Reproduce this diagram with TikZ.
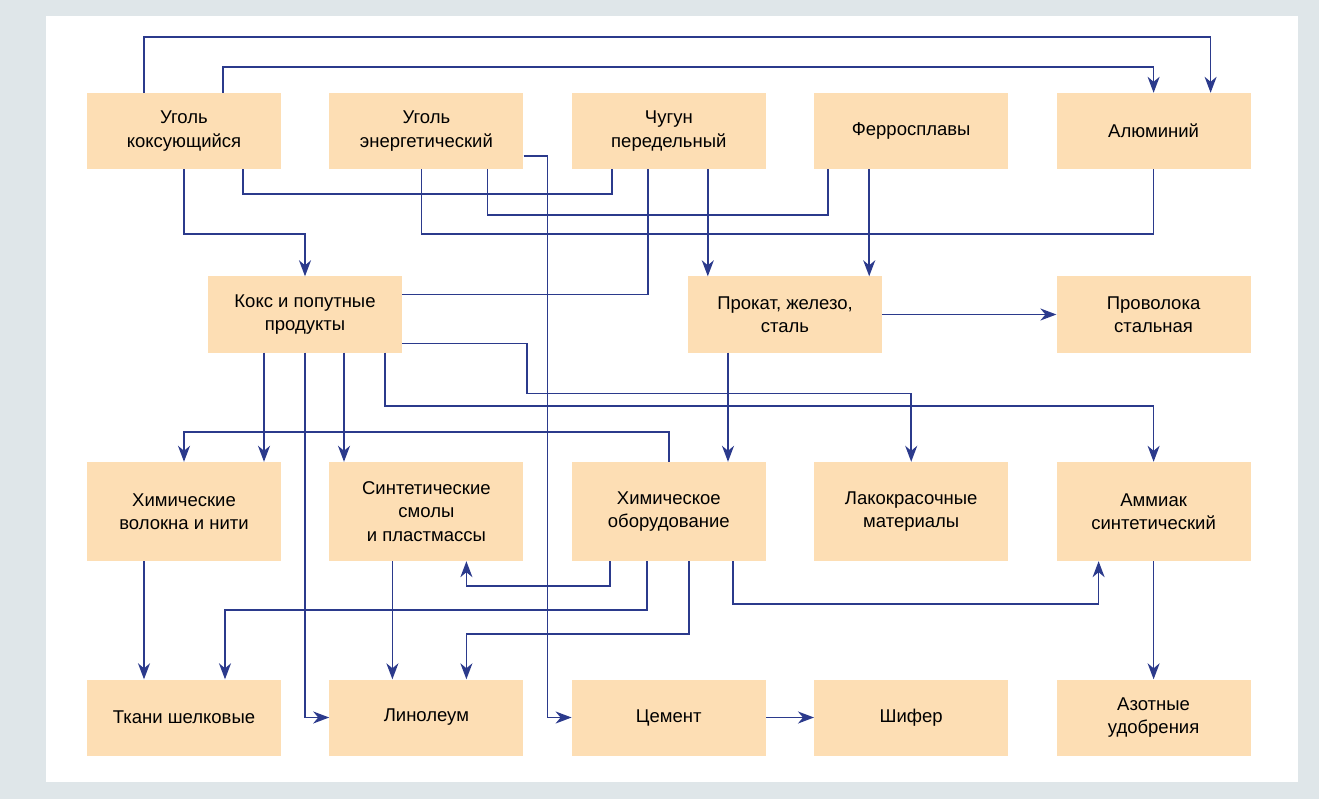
\documentclass[tikz,border=0pt]{standalone}
\usepackage{fontspec}
\setmainfont{Liberation Sans}
\usetikzlibrary{arrows.meta,positioning,calc}
\definecolor{Peach}{HTML}{FDDEB4}
\definecolor{Navy}{HTML}{2B3A8C}
\definecolor{Frame}{HTML}{DFE6E9}
\tikzset{
  unit/.style={fill=Peach,minimum width=194pt,minimum height=76pt,align=center,
    inner sep=0pt,font=\fontsize{18.5}{23.5}\selectfont},
  tallunit/.style={unit,minimum height=99pt},
  link/.style={draw=Navy,line width=1.6pt},
  arrow/.style={link,-{Stealth[length=16pt,width=12pt,inset=5pt]}}
}

\begin{document}
\begin{tikzpicture}[x=1pt,y=-1pt,node distance=48pt]
        \fill[Frame] (0,0) rectangle (1319,799);
        \fill[white] (46,16) rectangle (1298,782);
        \useasboundingbox (0,0) rectangle (1319,799);
        \node[unit] (coal) at (184,131) {Уголь\\коксующийся};
        \node[unit,right=of coal] (ecoal) {Уголь\\энергетический};
        \node[unit,right=of ecoal] (iron) {Чугун\\передельный};
        \node[unit,right=of iron] (ferro) {Ферросплавы};
        \node[unit,right=of ferro] (alu) {Алюминий};
        \node[unit] (coke) at (305,314.5) {Кокс и попутные\\продукты};
        \node[unit] (steel) at (785,314.5) {Прокат, железо,\\сталь};
        \node[unit] (wire) at (alu |- steel) {Проволока\\стальная};
        \node[tallunit] (fibre) at (184,511.5) {Химические\\волокна и нити};
        \node[tallunit,right=of fibre] (resin) {Синтетические\\смолы\\и пластмассы};
        \node[tallunit,right=of resin] (equip) {Химическое\\оборудование};
        \node[tallunit,right=of equip] (paint) {Лакокрасочные\\материалы};
        \node[tallunit,right=of paint] (nh3) {Аммиак\\синтетический};
        \node[unit] (silk) at (184,717.5) {Ткани шелковые};
        \node[unit,right=of silk] (lino) {Линолеум};
        \node[unit,right=of lino] (cement) {Цемент};
        \node[unit,right=of cement] (slate) {Шифер};
        \node[unit,right=of slate] (fert) {Азотные\\удобрения};
        \draw[arrow] ([xshift=-40pt]coal.north) -- ++(0,-56) -| ([xshift=57pt]alu.north);
        \draw[arrow] ([xshift=39pt]coal.north) -- ++(0,-26) -| (alu.north);
        \draw[link] ([xshift=59pt]coal.south) -- ++(0,25) -| ([xshift=-57pt]iron.south);
        \draw[link] ([xshift=61pt]ecoal.south) -- ++(0,46) -| ([xshift=-83pt]ferro.south);
        \draw[link] ([xshift=-5pt]ecoal.south) -- ++(0,65) -| (alu.south);
        \draw[arrow] (coal.south) -- ++(0,65) -| (coke.north);
        \draw[arrow] ([yshift=-25pt]ecoal.east) -- ++(24,0) |- (cement.west);
        \draw[link] ([xshift=-21pt]iron.south) |- ([yshift=20pt]coke.east);
        \draw[arrow] ([xshift=39pt]iron.south) coordinate (p) -- (p |- steel.north);
        \draw[arrow] ([xshift=-42pt]ferro.south) coordinate (p) -- (p |- steel.north);
        \draw[arrow] (steel.east) -- (wire.west);
        \draw[arrow] ([xshift=-41pt]coke.south) coordinate (p) -- (p |- fibre.north);
        \draw[arrow] (coke.south) |- (lino.west);
        \draw[arrow] ([xshift=39pt]coke.south) coordinate (p) -- (p |- resin.north);
        \draw[arrow] ([xshift=80pt]coke.south) -- ++(0,53) -| (nh3.north);
        \draw[arrow] ([yshift=-29pt]coke.east) -- ++(125,0) -- ++(0,50) -| (paint.north);
        \draw[arrow] (equip.north) -- ++(0,-30) -| (fibre.north);
        \draw[arrow] ([xshift=-57pt]steel.south) coordinate (p) -- (p |- equip.north);
        \draw[arrow] ([xshift=-40pt]fibre.south) coordinate (p) -- (p |- silk.north);
        \draw[arrow] ([xshift=-34pt]resin.south) coordinate (p) -- (p |- lino.north);
        \draw[arrow] ([xshift=-59pt]equip.south) -- ++(0,25) -| ([xshift=40pt]resin.south);
        \draw[arrow] ([xshift=-22pt]equip.south) -- ++(0,49) -| ([xshift=41pt]silk.north);
        \draw[arrow] ([xshift=20pt]equip.south) -- ++(0,73) -| ([xshift=40pt]lino.north);
        \draw[arrow] ([xshift=64pt]equip.south) -- ++(0,43) -| ([xshift=-55pt]nh3.south);
        \draw[arrow] (nh3.south) -- (fert.north);
        \draw[arrow] (cement.east) -- (slate.west);
      \end{tikzpicture}
\end{document}
